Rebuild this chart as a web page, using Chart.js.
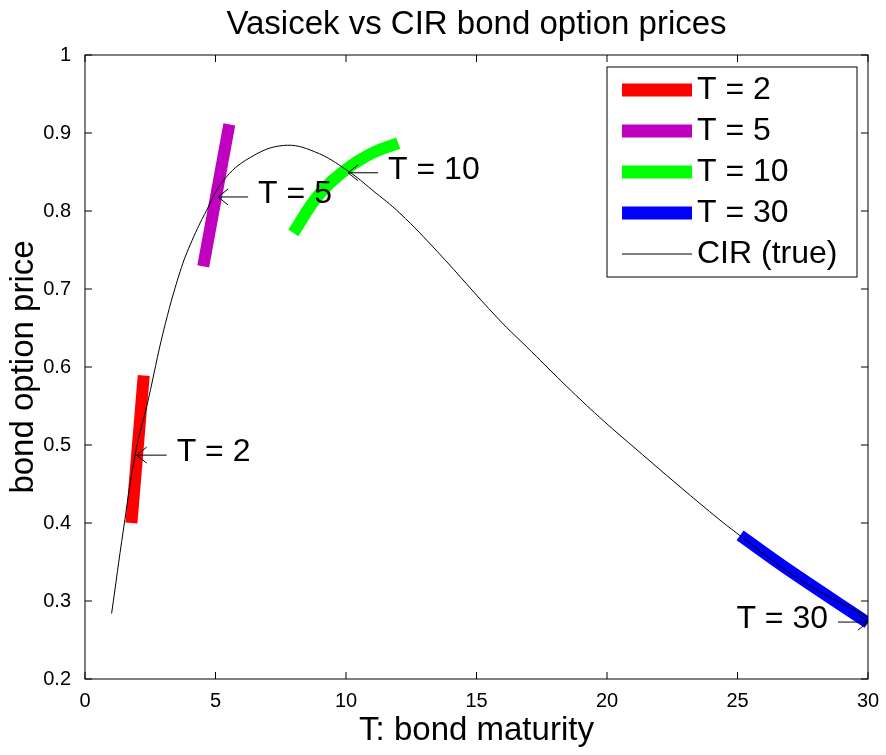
<!DOCTYPE html>
<html>
<head>
<meta charset="utf-8">
<script src="https://cdn.jsdelivr.net/npm/chart.js@4"></script>
<style>
  body { margin: 0; background: #fff; }
  #wrap { width: 886px; height: 755px; }
</style>
</head>
<body>
<div id="wrap"><canvas id="myChart" width="886" height="755"></canvas></div>
<script>
// values
var cirT = [1.02, 1.47, 1.92, 2.43, 3.0, 3.64, 4.1, 4.66, 5.3, 6.3, 7.6, 8.8, 10.09, 11.0, 12.07, 13.5, 15.8, 17.1, 18.46, 19.7, 21.0, 23.56, 24.97, 27.4, 29.95];
var cirPrice = [0.284, 0.391, 0.487, 0.559, 0.645, 0.722, 0.762, 0.801, 0.839, 0.868, 0.884, 0.876, 0.851, 0.827, 0.797, 0.748, 0.663, 0.620, 0.575, 0.536, 0.498, 0.425, 0.387, 0.327, 0.28];

var t2T = [1.78, 2.25];
var t2Price = [0.40, 0.589];
var t5T = [4.53, 5.53];
var t5Price = [0.729, 0.911];
var t10T = [7.98, 8.94, 10.03, 11.05, 12.0];
var t10Price = [0.772, 0.82, 0.854, 0.875, 0.887];
var t30T = [25.1, 26.95, 30];
var t30Price = [0.384, 0.34, 0.272];

// arrow labels: tip position and text
var labelText = ['T = 2', 'T = 5', 'T = 10', 'T = 30'];
var labelT = [1.98, 5.1, 10.08, 30];
var labelPrice = [0.487, 0.818, 0.849, 0.273];

var legendNames = ['T = 2', 'T = 5', 'T = 10', 'T = 30', 'CIR (true)'];
var legendColors = ['#ff0000', '#bf00bf', '#00ff00', '#0000ff', '#000000'];

function pts(xs, ys) {
  return xs.map(function (x, i) { return { x: x, y: ys[i] }; });
}

var font = "'Liberation Sans', Arial, sans-serif";

var matlabBox = {
  id: 'matlabBox',
  afterDraw: function (chart) {
    var c = chart.ctx, a = chart.chartArea;
    var xs = chart.scales.x, ys = chart.scales.y;
    c.save();
    c.strokeStyle = '#000';
    c.lineWidth = 1;
    c.strokeRect(a.left, a.top, a.right - a.left, a.bottom - a.top);
    // inward ticks
    c.beginPath();
    for (var t = 0; t <= 30; t += 5) {
      var px = xs.getPixelForValue(t);
      c.moveTo(px, a.bottom); c.lineTo(px, a.bottom - 7);
      c.moveTo(px, a.top); c.lineTo(px, a.top + 7);
    }
    for (var v = 2; v <= 10; v++) {
      var py = ys.getPixelForValue(v / 10);
      c.moveTo(a.left, py); c.lineTo(a.left + 7, py);
      c.moveTo(a.right, py); c.lineTo(a.right - 7, py);
    }
    c.stroke();

    // title
    c.fillStyle = '#000';
    c.font = '33px ' + font;
    c.textAlign = 'center';
    c.textBaseline = 'middle';
    c.fillText('Vasicek vs CIR bond option prices', (a.left + a.right) / 2, 25);

    // arrow labels
    c.font = '32px ' + font;
    c.textBaseline = 'middle';
    for (var i = 0; i < labelText.length; i++) {
      var tx = xs.getPixelForValue(labelT[i]);
      var ty = ys.getPixelForValue(labelPrice[i]);
      c.beginPath();
      if (i < 3) {
        c.moveTo(tx, ty); c.lineTo(tx + 30, ty);
        c.moveTo(tx + 10, ty - 8); c.lineTo(tx, ty); c.lineTo(tx + 10, ty + 8);
        c.stroke();
        c.textAlign = 'left';
        c.fillText(labelText[i], tx + 40, ty - 3);
      } else {
        c.moveTo(tx, ty); c.lineTo(tx - 30, ty);
        c.moveTo(tx - 10, ty - 8); c.lineTo(tx, ty); c.lineTo(tx - 10, ty + 8);
        c.stroke();
        c.textAlign = 'right';
        c.fillText(labelText[i], tx - 40, ty - 3);
      }
    }

    // legend box
    var lx = 607, ly = 67, lw = 250, lh = 210;
    c.fillStyle = '#fff';
    c.fillRect(lx, ly, lw, lh);
    c.strokeRect(lx, ly, lw, lh);
    c.textAlign = 'left';
    for (var k = 0; k < legendNames.length; k++) {
      var yy = ly + 23 + k * 41;
      c.strokeStyle = legendColors[k];
      c.lineWidth = k < 4 ? 13 : 1;
      c.beginPath();
      c.moveTo(lx + 15, yy); c.lineTo(lx + 85, yy);
      c.stroke();
      c.fillStyle = '#000';
      c.fillText(legendNames[k], lx + 90, yy);
    }
    c.restore();
  }
};

const data = {
  datasets: [
    { label: 'CIR (true)', data: pts(cirT, cirPrice), borderColor: '#000', borderWidth: 1, tension: 0.4, pointRadius: 0, order: 0 },
    { label: 'T = 2', data: pts(t2T, t2Price), borderColor: '#ff0000', borderWidth: 12, pointRadius: 0, order: 1 },
    { label: 'T = 5', data: pts(t5T, t5Price), borderColor: '#bf00bf', borderWidth: 12, pointRadius: 0, order: 1 },
    { label: 'T = 10', data: pts(t10T, t10Price), borderColor: '#00ff00', borderWidth: 12, tension: 0.4, pointRadius: 0, order: 1 },
    { label: 'T = 30', data: pts(t30T, t30Price), borderColor: '#0000ff', borderWidth: 12, tension: 0.4, pointRadius: 0, order: 1 }
  ]
};

const ctx = document.getElementById('myChart');
var myChart = new Chart(ctx, {
  type: 'line',
  data: data,
  plugins: [matlabBox],
  options: {
    responsive: false,
    animation: false,
    layout: { padding: { top: 55, right: 18, left: 0, bottom: 0 } },
    plugins: { legend: { display: false }, tooltip: { enabled: false } },
    scales: {
      x: {
        type: 'linear', min: 0, max: 30,
        grid: { display: false },
        border: { display: false },
        ticks: { stepSize: 5, color: '#000', font: { size: 20, family: font }, padding: 2 },
        title: { display: true, text: 'T: bond maturity', color: '#000', font: { size: 33, family: font }, padding: { top: 2 } },
        afterFit: function (s) { s.height = 76; }
      },
      y: {
        min: 0.2, max: 1,
        grid: { display: false },
        border: { display: false },
        ticks: { stepSize: 0.1, color: '#000', font: { size: 20, family: font }, padding: 6,
          callback: function (v) { return Math.round(v * 10) / 10; } },
        title: { display: true, text: 'bond option price', color: '#000', font: { size: 33, family: font }, padding: { bottom: 2 } },
        afterFit: function (s) { s.width = 85; }
      }
    }
  }
});
</script>
</body>
</html>
